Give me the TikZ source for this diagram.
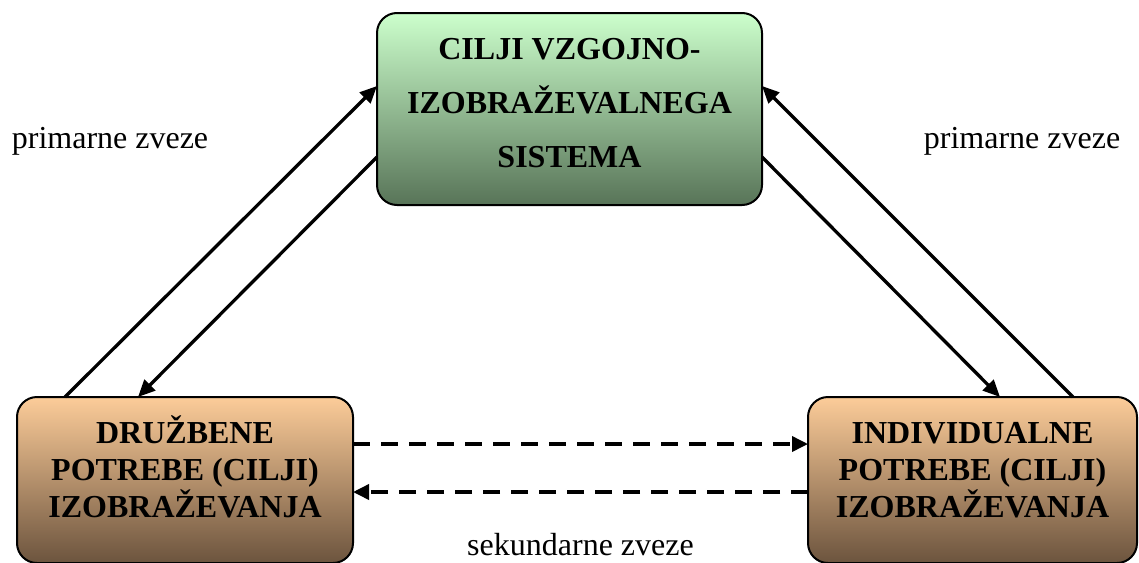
\documentclass[tikz,border=0pt]{standalone}
\usepackage{fontspec}
\setmainfont{Liberation Serif}
\usetikzlibrary{arrows.meta,calc}
\definecolor{gtop}{RGB}{204,255,204}
\definecolor{gbot}{RGB}{88,116,88}
\definecolor{otop}{RGB}{252,204,153}
\definecolor{obot}{RGB}{108,84,62}
\tikzset{
  box/.style={draw=black, line width=2pt, rounded corners=20pt, inner sep=0pt, outer sep=0pt},
  greenbox/.style={box, top color=gtop, bottom color=gbot},
  orangebox/.style={box, top color=otop, bottom color=obot},
  boxtext/.style={align=center, inner sep=0pt, anchor=north, font=\bfseries},
  lbl/.style={inner sep=0pt, anchor=base, font=\fontsize{32}{38}\selectfont},
  conn/.style={line width=3.3pt, -{Triangle[length=17pt,width=15pt]}},
  dconn/.style={line width=3.6pt, dash pattern=on 17pt off 11pt, -{Triangle[length=16pt,width=15pt]}}
}
\begin{document}
\begin{tikzpicture}[x=1pt,y=-1pt]
\useasboundingbox (0,0) rectangle (1139,562);
% boxes
\node[greenbox, minimum width=385pt, minimum height=192pt] (top) at (569.5,109) {};
\node[orangebox, minimum width=336pt, minimum height=166pt] (dl) at (185,480) {};
\node[orangebox, minimum width=329pt, minimum height=166pt] (dr) at (972.5,480) {};
% box texts
\node[boxtext, font=\bfseries\fontsize{32}{54}\selectfont] (toptxt) at (569.5,29.5)
  {\rule{0pt}{30pt}CILJI VZGOJNO-\\IZOBRAŽEVALNEGA\\SISTEMA};
\node[boxtext, font=\bfseries\fontsize{32}{37}\selectfont] (dltxt) at (185,413)
  {\rule{0pt}{30pt}DRUŽBENE\\POTREBE (CILJI)\\IZOBRAŽEVANJA};
\node[boxtext, font=\bfseries\fontsize{32}{37}\selectfont] (drtxt) at (972.5,413)
  {\rule{0pt}{30pt}INDIVIDUALNE\\POTREBE (CILJI)\\IZOBRAŽEVANJA};
% labels
\node[lbl] (pl) at (110,148) {primarne zveze};
\node[lbl] (pr) at (1022,148) {primarne zveze};
\node[lbl] (sk) at (580.5,555) {sekundarne zveze};
% primary connectors
\draw[conn] ($(dl.north west)+(48,0)$) -- ($(top.north west)+(0,73)$);
\draw[conn] ($(top.north west)+(0,144)$) -- ($(dl.north west)+(121,0)$);
\draw[conn] ($(top.north east)+(0,144)$) -- ($(dr.north west)+(192,0)$);
\draw[conn] ($(dr.north west)+(265,0)$) -- ($(top.north east)+(0,73)$);
% secondary connectors
\draw[dconn] ($(dl.north east)+(0,47)$) -- ($(dr.north west)+(0,47)$);
\draw[dconn] ($(dr.north west)+(0,95)$) -- ($(dl.north east)+(0,95)$);
\end{tikzpicture}
\end{document}
